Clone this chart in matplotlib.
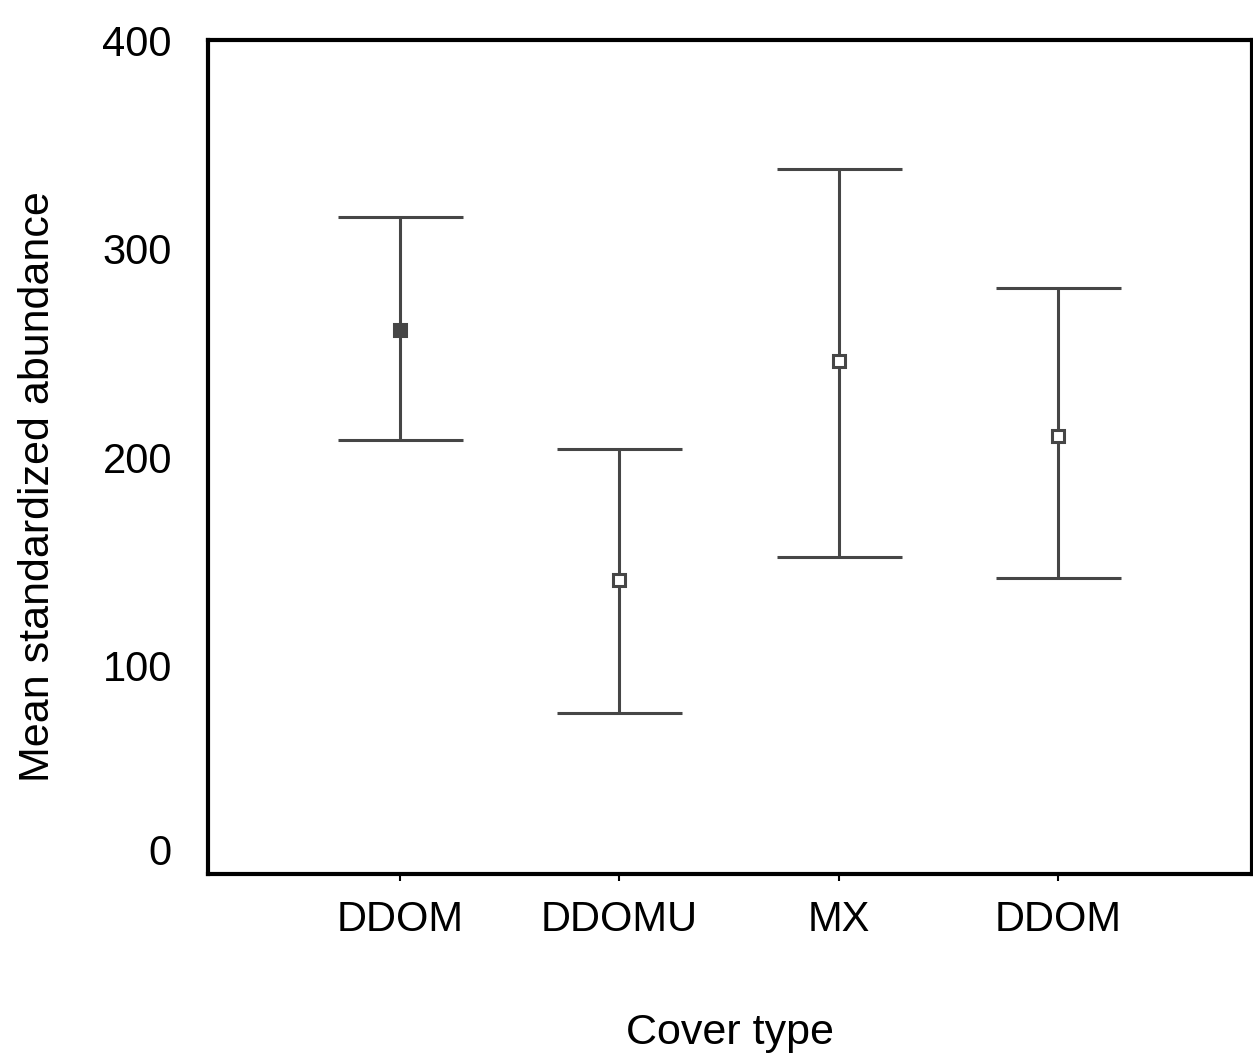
import numpy as np
import matplotlib.pyplot as plt

# Данні з графіка
categories = ['DDOM', 'DDOMU', 'MX', 'DDOM']
means = [261, 141, 246, 210]
upper = [315, 204, 338, 281]
lower = [208, 77, 152, 142]
filled = [True, False, False, False]

plt.rcParams['font.family'] = ['Liberation Sans', 'DejaVu Sans']

fig = plt.figure(figsize=(12.53, 10.59), dpi=100)
ax = fig.add_axes([0.166, 0.1747, 0.833, 0.7875])

x = np.arange(1, len(categories) + 1)
col = '#464646'
for xi, m, hi, lo, f in zip(x, means, upper, lower, filled):
    ax.errorbar([xi], [m], yerr=[[m - lo], [hi - m]], fmt='none',
                ecolor=col, elinewidth=2.2, capsize=45, capthick=2.2)
    ax.plot([xi], [m], marker='s', ms=8, mew=2.2, mec=col,
            mfc=col if f else 'white', ls='none', zorder=3)

ax.set_xlim(0.124, 4.885)
ax.set_ylim(0, 400)
ax.set_xticks(x)
ax.set_xticklabels(categories)
ax.set_yticks([0, 100, 200, 300, 400])
ax.tick_params(axis='x', length=5, width=1.5, direction='out', pad=14,
               labelsize=30)
ax.tick_params(axis='y', length=0, pad=26, labelsize=30)
ax.get_yticklabels()[0].set_va('bottom')
for s in ax.spines.values():
    s.set_linewidth(3)

ax.set_xlabel('Cover type', fontsize=31, labelpad=52)
ax.set_ylabel('Mean standardized abundance', fontsize=31, va='center')
ax.yaxis.set_label_coords(-0.163, 0.464)

fig.savefig('out.png', dpi=100)
